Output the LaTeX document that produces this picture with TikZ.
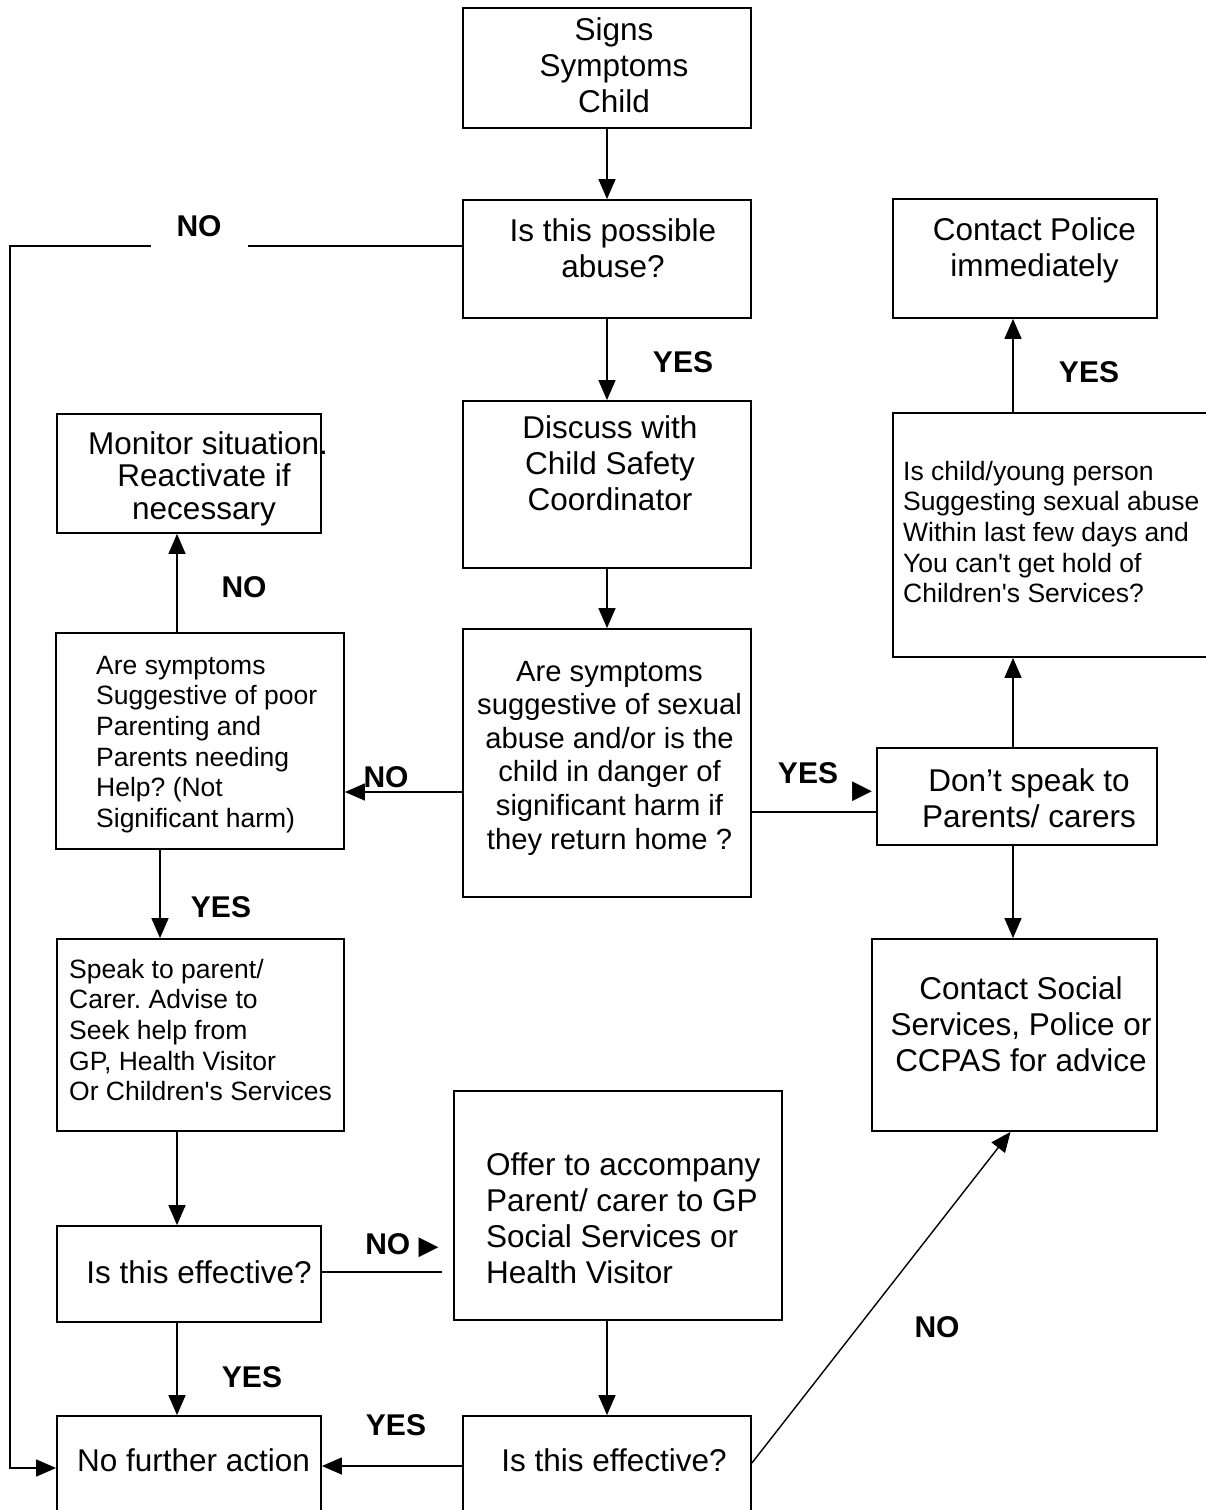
\documentclass[tikz,border=0pt]{standalone}
\usepackage{fontspec}
\setmainfont{Liberation Sans}
\newfontfamily\symfont{DejaVu Sans}
\usetikzlibrary{arrows.meta}
\frenchspacing
\tikzset{
  box/.style={draw, line width=1.8pt, inner sep=0pt},
  big/.style={font=\fontsize{31.5}{36}\selectfont, inner sep=0pt, align=center},
  small/.style={font=\fontsize{26.5}{30.6}\selectfont, inner sep=0pt, align=left, anchor=west},
  lbl/.style={font=\bfseries\fontsize{30}{36}\selectfont, inner sep=0pt},
  arr/.style={line width=1.4pt, -{Triangle[length=20pt,width=17pt]}},
  link/.style={line width=1.4pt},
}
\begin{document}
\begin{tikzpicture}[x=1pt, y=-1pt, line join=miter]
  \useasboundingbox (0,0) rectangle (1205,1510);
  % boxes
  \node[box, minimum width=288pt, minimum height=120pt] (sig)   at (607,68) {};
  \node[box, minimum width=288pt, minimum height=118pt] (poss)  at (607,259) {};
  \node[box, minimum width=288pt, minimum height=167pt] (disc)  at (607,484.5) {};
  \node[box, minimum width=288pt, minimum height=268pt] (sex)   at (607,763) {};
  \node[box, minimum width=264pt, minimum height=119pt] (pol)   at (1025,258.5) {};
  \node[box, minimum width=322pt, minimum height=244pt] (ask)   at (1054,535) {};
  \node[box, minimum width=280pt, minimum height=97pt]  (dont)  at (1017,796.5) {};
  \node[box, minimum width=285pt, minimum height=192pt] (soc)   at (1014.5,1035) {};
  \node[box, minimum width=264pt, minimum height=119pt] (mon)   at (189,473.5) {};
  \node[box, minimum width=288pt, minimum height=216pt] (poor)  at (200,741) {};
  \node[box, minimum width=287pt, minimum height=192pt] (speak) at (200.5,1035) {};
  \node[box, minimum width=264pt, minimum height=96pt]  (eff1)  at (189,1274) {};
  \node[box, minimum width=328pt, minimum height=229pt] (offer) at (618,1205.5) {};
  \node[box, minimum width=264pt, minimum height=124pt] (nfa)   at (189,1478) {};
  \node[box, minimum width=288pt, minimum height=124pt] (eff2)  at (607,1478) {};
  % texts
  \node[big] (sig-t)  at (614,65) {Signs\\Symptoms\\Child};
  \node[big] (poss-t) at (613,248.5) {Is this possible\\abuse?};
  \node[big] (disc-t) at (610,463) {Discuss with\\Child Safety\\Coordinator};
  \node[big, font=\fontsize{29.2}{33.6}\selectfont] (sex-t) at (609.5,758)
    {Are symptoms\\suggestive of sexual\\abuse and/or is the\\child in danger of\\significant harm if\\they return home ?};
  \node[big] (pol-t)  at (1034.5,250.5) {Contact Police\\immediately};
  \node[small] (ask-t) at (903,532) {Is child/young person\\Suggesting sexual abuse\\Within last few days and\\You can\textquotesingle t get hold of\\Children\textquotesingle s Services?};
  \node[big] (dont-t) at (1029,798) {Don’t speak to\\Parents/ carers};
  \node[big] (soc-t)  at (1021,1024.5) {Contact Social\\Services, Police or\\CCPAS for advice};
  \node[big, font=\fontsize{31.5}{32.5}\selectfont] (mon-t) at (208,478.5) {Monitor situation.\\\hspace*{-8pt}Reactivate if\\\hspace*{-8pt}necessary};
  \node[small] (poor-t) at (96,744.5) {Are symptoms\\Suggestive of poor\\Parenting and\\Parents needing\\Help? (Not\\Significant harm)};
  \node[small] (speak-t) at (69,1030) {Speak to parent/\\Carer. Advise to\\Seek help from\\GP, Health Visitor\\Or Children\textquotesingle s Services};
  \node[big] (eff1-t) at (199,1272) {Is this effective?};
  \node[big, align=left, anchor=west] (offer-t) at (486,1218.5) {Offer to accompany\\Parent/ carer to GP\\Social Services or\\Health Visitor};
  \node[big] (nfa-t)  at (193.5,1460) {No further action};
  \node[big] (eff2-t) at (614,1460) {Is this effective?};
  % helper points
  \coordinate (lane)   at (10,800);
  \coordinate (sexL)   at ([yshift=-29pt]sex.west);
  \coordinate (sexR)   at ([yshift=-49pt]sex.east);
  \coordinate (dontN)  at ([xshift=-4pt]dont.north);
  \coordinate (poorN)  at ([xshift=-23pt]poor.north);
  \coordinate (poorS)  at ([xshift=-40pt]poor.south);
  \coordinate (speakS) at ([xshift=-23.5pt]speak.south);
  \coordinate (effR)   at ([yshift=2pt]eff1.east);
  \coordinate (offerGap) at ([xshift=-11pt]offer.west);
  \coordinate (eff1S)  at ([xshift=-12pt]eff1.south);
  \coordinate (offerS) at ([xshift=-11pt]offer.south);
  \coordinate (eff2L)  at ([yshift=12pt]eff2.west);
  % connectors
  \draw[arr] (sig) -- (poss);
  \draw[arr] (poss) -- (disc);
  \draw[arr] (disc) -- (sex);
  \draw[arr] ([yshift=13pt]poss.west) -| (lane) |- ([yshift=10pt]nfa.west);
  \draw[arr] (sexL) -- (sexL -| poor.east);
  \draw[link] (sexR) -- (sexR -| dont.west);
  \draw[arr] (dontN) -- (dontN |- ask.south);
  \draw[arr] (dontN |- ask.north) -- (dontN |- pol.south);
  \draw[arr] (dontN |- dont.south) -- (dontN |- soc.north);
  \draw[arr] (poorN) -- (poorN |- mon.south);
  \draw[arr] (poorS) -- (poorS |- speak.north);
  \draw[arr] (speakS) -- (speakS |- eff1.north);
  \draw[link] (effR) -- (effR -| offerGap);
  \draw[arr] (eff1S) -- (eff1S |- nfa.north);
  \draw[arr] (offerS) -- (offerS |- eff2.north);
  \draw[arr] (eff2L) -- (eff2L -| nfa.east);
  \draw[arr] ([yshift=15pt]eff2.east) -- ([xshift=-4pt]soc.south);
  % labels
  \node[lbl, fill=white, inner xsep=26pt, inner ysep=12pt] (no1) at (199,226.5) {NO};
  \node[lbl] (yes1) at (683,362) {YES};
  \node[lbl] (yes2) at (1089,372) {YES};
  \node[lbl] (no2)  at (386,777) {NO};
  \node[lbl] (yes3) at (808,773) {YES};
  \node[font=\symfont\fontsize{26}{26}\selectfont, inner sep=0pt] (tri3) at (862,792) {▶};
  \node[lbl] (no4)  at (402,1246) {NO {\symfont\mdseries\fontsize{26}{26}\selectfont ▶}};
  \node[lbl] (no3)  at (244,587) {NO};
  \node[lbl] (yes4) at (221,907) {YES};
  \node[lbl] (yes5) at (252,1377) {YES};
  \node[lbl] (yes6) at (396,1425) {YES};
  \node[lbl] (no5)  at (937,1327) {NO};
\end{tikzpicture}
\end{document}
